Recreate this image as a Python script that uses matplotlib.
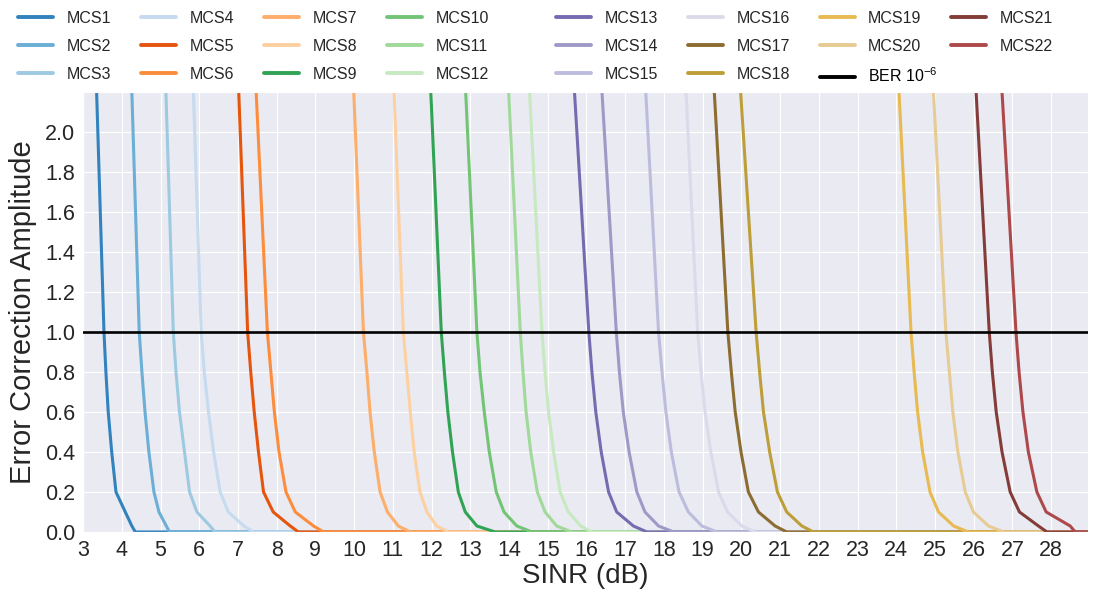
import matplotlib
matplotlib.use('Agg')
import matplotlib.pyplot as plt
import seaborn as sns

# error correction amplitude levels at which each curve was read
amp_levels = [2.2, 1.0, 0.8, 0.6, 0.4, 0.2, 0.1, 0.03, 0.0]
sinr_end = 29.5

mcs_labels = ['MCS%d' % i for i in range(1, 23)]

# SINR (dB) of every MCS curve at the levels above
mcs_sinr = [
    [3.35, 3.54, 3.59, 3.65, 3.74, 3.85, 4.09, 4.26, 4.35],
    [4.26, 4.45, 4.52, 4.60, 4.70, 4.83, 4.96, 5.15, 5.23],
    [5.14, 5.33, 5.40, 5.49, 5.62, 5.75, 5.94, 6.28, 6.41],
    [5.85, 6.05, 6.13, 6.24, 6.37, 6.54, 6.75, 7.15, 7.40],
    [7.02, 7.25, 7.33, 7.42, 7.53, 7.66, 7.91, 8.35, 8.56],
    [7.47, 7.76, 7.85, 7.94, 8.06, 8.24, 8.48, 8.95, 9.21],
    [9.99, 10.24, 10.33, 10.41, 10.52, 10.67, 10.86, 11.14, 11.45],
    [11.03, 11.27, 11.36, 11.45, 11.55, 11.70, 11.88, 12.13, 12.43],
    [11.98, 12.25, 12.33, 12.42, 12.54, 12.69, 12.87, 13.17, 13.64],
    [12.88, 13.17, 13.25, 13.36, 13.49, 13.67, 13.87, 14.20, 14.59],
    [13.99, 14.29, 14.36, 14.44, 14.56, 14.73, 14.93, 15.23, 15.62],
    [14.53, 14.85, 14.93, 15.02, 15.15, 15.32, 15.53, 15.85, 16.14],
    [15.69, 16.06, 16.14, 16.24, 16.38, 16.57, 16.78, 17.21, 17.56],
    [16.40, 16.77, 16.85, 16.95, 17.10, 17.30, 17.51, 17.86, 18.25],
    [17.53, 17.86, 17.95, 18.05, 18.19, 18.39, 18.63, 18.98, 19.37],
    [18.57, 18.87, 18.96, 19.06, 19.21, 19.41, 19.64, 20.01, 20.36],
    [19.30, 19.65, 19.74, 19.84, 19.99, 20.18, 20.44, 20.87, 21.17],
    [19.98, 20.38, 20.47, 20.57, 20.73, 20.93, 21.17, 21.56, 21.86],
    [24.07, 24.38, 24.46, 24.55, 24.68, 24.87, 25.09, 25.48, 25.86],
    [24.96, 25.28, 25.37, 25.46, 25.59, 25.78, 25.99, 26.38, 26.77],
    [26.06, 26.40, 26.48, 26.58, 26.73, 26.94, 27.18, 27.67, 27.89],
    [26.73, 27.09, 27.17, 27.27, 27.41, 27.63, 27.87, 28.49, 28.62],
]

ber_threshold = 1.0
ber_label = r'BER 10$^{-6}$'

x_ticks = list(range(3, 29))
y_ticks = [0.0, 0.2, 0.4, 0.6, 0.8, 1.0, 1.2, 1.4, 1.6, 1.8, 2.0]

sns.set_style('darkgrid')
plt.rcParams['font.family'] = ['Liberation Sans', 'DejaVu Sans']
plt.rcParams['mathtext.fontset'] = 'custom'
plt.rcParams['mathtext.rm'] = 'Liberation Sans'
plt.rcParams['mathtext.it'] = 'Liberation Sans'

_c20c = plt.get_cmap('tab20c').colors
_c20b = plt.get_cmap('tab20b').colors
colors = list(_c20c[:16]) + list(_c20b[8:12]) + list(_c20b[12:14])

fig = plt.figure(figsize=(11.03, 5.92), dpi=100)
ax = fig.add_axes([0.0753, 0.1014, 0.9111, 0.7432])

handles = []
for i in range(len(mcs_sinr)):
    xs = mcs_sinr[i] + [sinr_end]
    ys = amp_levels + [0.0]
    h, = ax.plot(xs, ys, color=colors[i], lw=2.2, label=mcs_labels[i])
    handles.append(h)

hber = ax.axhline(ber_threshold, color='black', lw=1.9, zorder=5, label=ber_label)

ax.set_xlim(3, 28.95)
ax.set_ylim(0, 2.2)
ax.set_xticks(x_ticks)
ax.set_yticks(y_ticks)
ax.set_yticklabels(['%.1f' % v for v in y_ticks])
ax.tick_params(axis='both', labelsize=15.5, pad=2, colors='#262626')
ax.set_xlabel('SINR (dB)', fontsize=20, color='#262626', labelpad=2)
ax.set_ylabel('Error Correction Amplitude', fontsize=21, color='#262626', labelpad=6)

leg_kw = dict(frameon=False, fontsize=11.5, handlelength=2.2,
              handletextpad=0.85, columnspacing=1.85, labelspacing=0.8,
              borderpad=0, borderaxespad=0, loc='upper left')
top = 1 - 11 / 592
leg1 = fig.legend(handles[:12], mcs_labels[:12], ncol=4,
                  bbox_to_anchor=(18 / 1103, top), **leg_kw)
mid_h = handles[12:20] + [hber]
mid_l = mcs_labels[12:20] + [ber_label]
leg2 = fig.legend(mid_h, mid_l, ncol=3,
                  bbox_to_anchor=(556 / 1103, top), **leg_kw)
leg3 = fig.legend(handles[20:], mcs_labels[20:], ncol=1,
                  bbox_to_anchor=(951 / 1103, top), **leg_kw)
for leg in (leg1, leg2, leg3):
    for line in leg.get_lines():
        line.set_linewidth(2.8)
    for t in leg.get_texts():
        t.set_color('#262626')
leg2.get_texts()[8].set_color('black')

fig.savefig('out.png', dpi=100)
